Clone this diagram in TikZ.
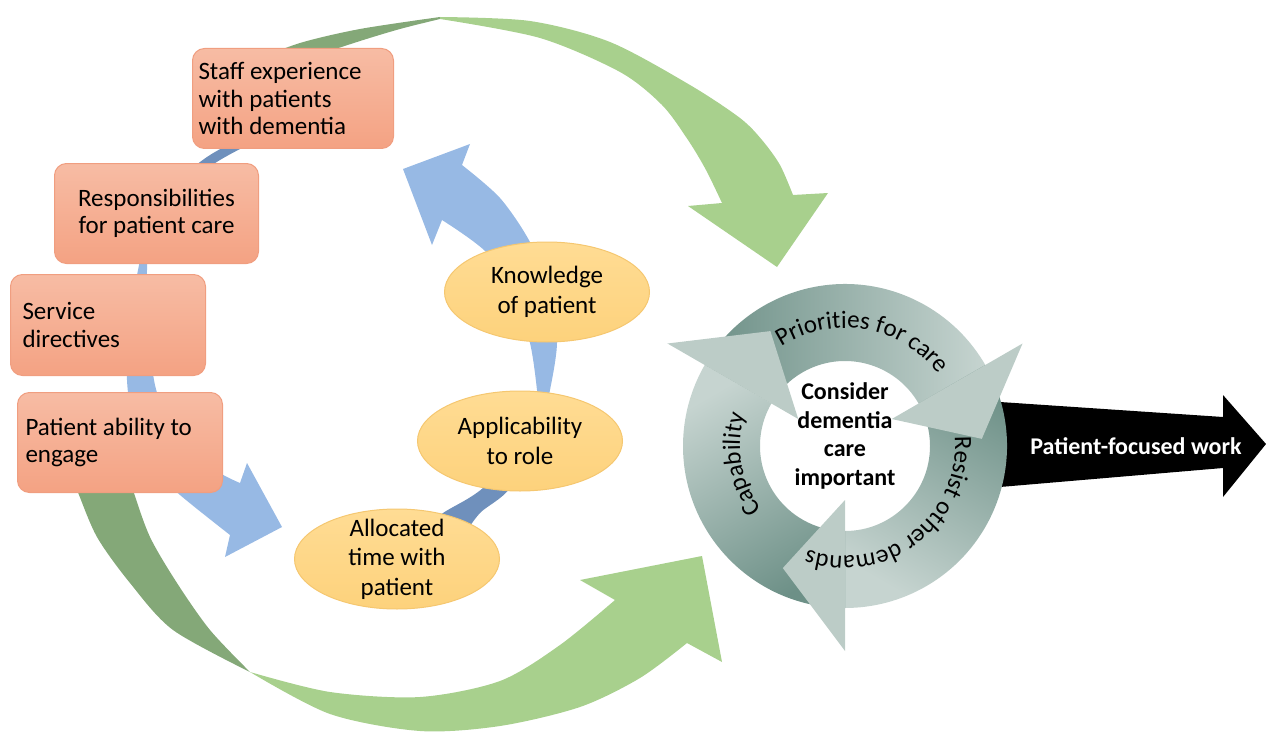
\documentclass[tikz,border=0pt]{standalone}
\usepackage{fontspec}
\setmainfont{Carlito}
\usetikzlibrary{shapes.geometric,decorations.text}

\definecolor{boxtop}{HTML}{F7BCA4}
\definecolor{boxbot}{HTML}{F4A283}
\definecolor{boxline}{HTML}{F09E80}
\definecolor{blobtop}{HTML}{FFDC94}
\definecolor{blobbot}{HTML}{FDD27C}
\definecolor{blobline}{HTML}{F5C770}
\definecolor{greenlight}{HTML}{A8D08D}
\definecolor{greendark}{HTML}{84A878}
\definecolor{bluelight}{HTML}{97B9E4}
\definecolor{bluedark}{HTML}{6F90BC}
\definecolor{ringdark}{HTML}{6D9087}
\definecolor{ringlight}{HTML}{C6D4D0}
\definecolor{ringhead}{HTML}{BCCCC7}

\newcommand{\boxfont}{\fontsize{25}{27.5}\selectfont}
\newcommand{\blobfont}{\fontsize{25}{29.5}\selectfont}
\newcommand{\ringfont}{\fontsize{25}{28}\selectfont}

\tikzset{
  factor/.style={draw=boxline, line width=1pt, rounded corners=12pt,
    top color=boxtop, bottom color=boxbot, anchor=north west,
    minimum height=100pt, inner xsep=6pt, align=flush left, font=\boxfont},
  blob/.style={ellipse, draw=blobline, line width=1pt, top color=blobtop,
    bottom color=blobbot, minimum width=205pt, minimum height=100pt},
  blobtext/.style={align=flush center, font=\blobfont},
  ringtext/.style={decorate, decoration={text along path, text align=center,
    text={|\ringfont|#1}}},
}

\begin{document}
\begin{tikzpicture}[x=1pt,y=-1pt]
    \useasboundingbox (0,0) rectangle (1266,733);

    % green arrows
    \fill[greendark] plot[smooth] coordinates {(250,62) (300,43) (360,29) (440,17)}
        -- plot[smooth] coordinates {(440,19) (400,29) (357,42) (310,58) (260,80)} -- cycle;
    \fill[greenlight] plot[smooth] coordinates {(440,17) (530,21) (610,42) (690,85) (740,118) (762,140) (780,165) (793,195)}
        -- (828,193) -- (777,267) -- (688,206)
        -- plot[smooth] coordinates {(722,203) (706,170) (688,140) (662,105) (620,72) (540,38) (440,19)} -- cycle;

    \fill[greendark] plot[smooth] coordinates {(68,470) (77,490) (97,537) (130,583) (173,630) (250,672)}
        -- plot[smooth] coordinates {(250,672) (210,630) (177,583) (150,537) (133,490) (128,470)} -- cycle;
    \fill[greenlight] plot[smooth] coordinates {(250,672) (330,692) (420,697) (500,681) (560,645) (615,600)}
        -- (580,580) -- (702,556) -- (722,662)
        -- plot[smooth] coordinates {(687,643) (640,678) (580,707) (500,726) (420,731) (330,714) (250,672)} -- cycle;

    % blue arrows
    \fill[bluedark] plot[smooth] coordinates {(420,532) (443,513) (483,488) (540,430)}
        -- plot[smooth] coordinates {(540,430) (510,488) (480,513) (462,538)} -- cycle;
    \fill[bluelight] plot[smooth] coordinates {(540,430) (550,390) (557,343) (552,295) (530,242) (500,198) (462,165)}
        -- (470,144) -- (403,169) -- (432,245)
        -- plot[smooth] coordinates {(442,220) (487,253) (515,300) (530,343) (537,390) (540,430)} -- cycle;

    \fill[bluedark] plot[smooth] coordinates {(160,215) (180,180) (210,155) (250,135) (300,120)}
        -- plot[smooth] coordinates {(305,128) (260,140) (220,160) (185,185) (160,215)} -- cycle;
    \fill[bluelight] plot[smooth] coordinates {(160,215) (145,245) (138,270) (130,320) (127,380) (135,430) (155,470) (180,495) (230,535)}
        -- (225,557) -- (282,527) -- (247,463)
        -- plot[smooth] coordinates {(240,483) (220,473) (190,450) (168,420) (155,385) (148,330) (147,270) (150,245) (160,215)} -- cycle;

    % outcome
    \fill[black] (1000,402) -- (1223,417) -- (1223,395) -- (1266,444) -- (1223,497) -- (1223,468) -- (1000,487) -- cycle;
    \node[font=\bfseries\fontsize{24}{28}\selectfont, text=white] (work) at (1136,446) {Patient-focused work};

    % cycle
    \begin{scope}[shift={(845,446)}, y=1pt]
        \shade[top color=ringdark, bottom color=ringlight, shading angle=90]
            (150:162) arc[start angle=150, end angle=30, radius=162] -- (30:85) arc[start angle=30, end angle=150, radius=85] -- cycle;
        \shade[top color=ringdark, bottom color=ringlight, shading angle=-30]
            (30:162) arc[start angle=30, end angle=-90, radius=162] -- (-90:85) arc[start angle=-90, end angle=30, radius=85] -- cycle;
        \shade[top color=ringdark, bottom color=ringlight, shading angle=-150]
            (270:162) arc[start angle=270, end angle=150, radius=162] -- (150:85) arc[start angle=150, end angle=270, radius=85] -- cycle;

        \fill[ringhead] (30:54) -- (30:205) -- (3:137) -- cycle;
        \fill[ringhead] (-90:54) -- (-90:205) -- (-117:137) -- cycle;
        \fill[ringhead] (150:54) -- (150:205) -- (123:137) -- cycle;

        \path[ringtext={Priorities for care}] (140:118) arc[start angle=140, end angle=20, radius=118];
        \path[ringtext={Resist other demands}] (25:110) arc[start angle=25, end angle=-130, radius=110];
        \path[ringtext=Capability] (250:105) arc[start angle=250, end angle=130, radius=105];
    \end{scope}
    \node[font=\bfseries\fontsize{24}{28.5}\selectfont, align=flush center] (core) at (845,436)
        {Consider\\dementia\\care\\important};

    % factors
    \node[factor, text width=189pt] (staff) at (192,48) {Staff experience\\with patients\\with dementia};
    \node[factor, text width=192pt, align=flush center] (resp) at (54,163) {Responsibilities\\for patient care};
    \node[factor, text width=171pt, inner xsep=12pt, minimum height=101pt] (serv) at (10,274) {Service\\directives};
    \node[factor, text width=189pt, inner xsep=8pt] (abil) at (17,392) {Patient ability to\\engage};

    \node[blob] (know) at (547,292) {};
    \node[blobtext] (knowtext) at (know) {Knowledge\\of patient};
    \node[blob] (appl) at (520,441) {};
    \node[blobtext] (appltext) at (appl) {Applicability\\to role};
    \node[blob] (alloc) at (397,559) {};
    \node[blobtext] (alloctext) at (alloc) {Allocated\\time with\\patient};
\end{tikzpicture}
\end{document}
